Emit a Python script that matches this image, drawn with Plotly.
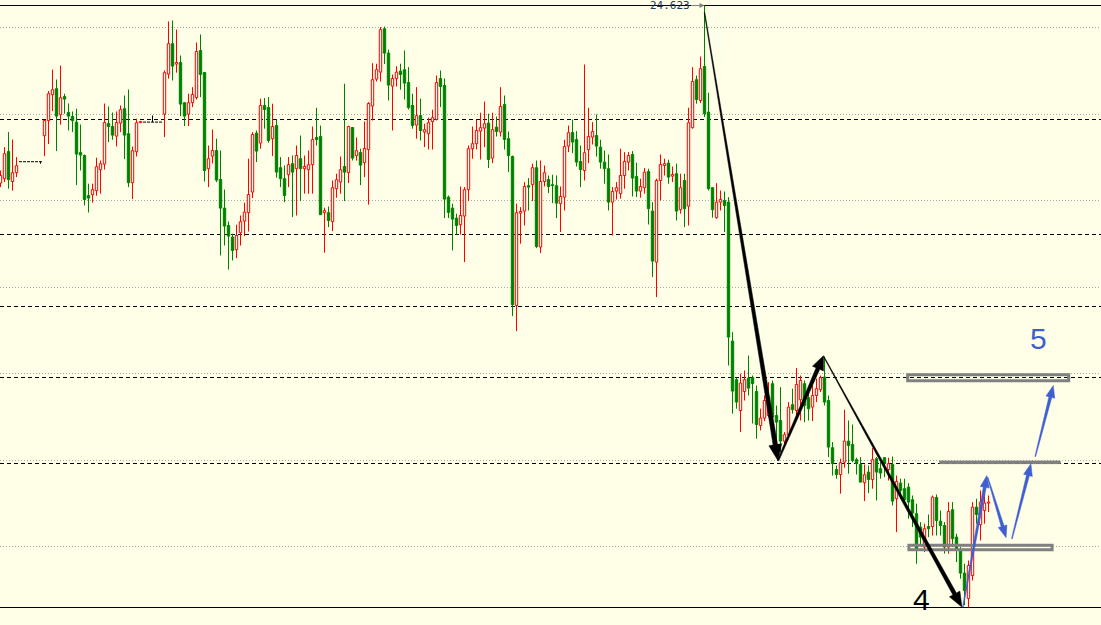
import math
import plotly.graph_objects as go

BG = "#FFFFE8"
UP = "#FF0000"
DN = "#008000"
DOJI = "#000000"
BLUE = "#3F5FD0"
GRAY = "#808080"
GRID = "#A8A8A8"

# ---- OHLC data (one candle per slot) ----
open_ = [23.735, 23.757, 23.893, 23.743, 23.787, 23.842, 23.842, 23.842, 23.842, 23.842,
         23.842, 23.972, 24.047, 24.177, 24.207, 24.077, 24.168, 24.088, 24.068, 24.040,
         23.888, 23.873, 23.673, 23.677, 23.697, 23.802, 23.830, 24.033, 24.018, 23.970,
         24.035, 24.107, 23.982, 23.737, 23.892, 24.037, 24.040, 24.040, 24.040, 24.040,
         24.040, 24.080, 24.280, 24.432, 24.330, 24.338, 24.137, 24.080, 24.137, 24.163,
         24.398, 24.288, 23.807, 23.870, 23.898, 23.753, 23.610, 23.523, 23.465, 23.402,
         23.487, 23.545, 23.587, 23.690, 23.985, 23.935, 24.123, 24.113, 23.957, 24.023,
         23.812, 23.757, 23.777, 23.832, 23.807, 23.857, 23.807, 23.802, 23.827, 23.963,
         23.968, 23.587, 23.587, 23.542, 23.707, 23.740, 23.818, 23.787, 24.013, 23.872,
         23.888, 23.837, 23.902, 24.120, 24.255, 24.290, 24.507, 24.385, 24.220, 24.257,
         24.295, 24.302, 24.238, 24.123, 24.025, 24.073, 23.990, 23.982, 24.042, 24.053,
         24.258, 24.223, 23.665, 23.610, 23.560, 23.527, 23.570, 23.702, 23.907, 23.932,
         23.995, 24.010, 24.035, 23.860, 24.015, 23.990, 24.128, 23.957, 23.868, 23.123,
         23.585, 23.595, 23.722, 23.727, 23.812, 23.415, 23.743, 23.753, 23.727, 23.722,
         23.632, 23.665, 23.920, 23.988, 23.953, 23.843, 23.798, 23.902, 23.965, 23.973,
         23.915, 23.840, 23.807, 23.640, 23.695, 23.682, 23.773, 23.840, 23.878, 23.768,
         23.695, 23.712, 23.793, 23.595, 23.340, 23.748, 23.823, 23.835, 23.770, 23.782,
         23.602, 23.748, 23.620, 24.012, 24.252, 24.148, 24.318, 24.090, 23.712, 23.562,
         23.640, 23.648, 23.640, 22.945, 22.752, 22.598, 22.693, 22.760, 22.763, 22.693,
         22.523, 22.560, 22.573, 22.732, 22.573, 22.548, 22.445, 22.478, 22.627, 22.598,
         22.652, 22.732, 22.662, 22.615, 22.673, 22.702, 22.765, 22.648, 22.412, 22.303,
         22.278, 22.340, 22.445, 22.428, 22.352, 22.328, 22.237, 22.290, 22.253, 22.357,
         22.307, 22.362, 22.303, 22.328, 22.157, 22.235, 22.207, 22.215, 22.152, 22.082,
         22.015, 21.915, 22.018, 22.018, 22.163, 22.045, 22.023, 21.915, 22.102, 21.965,
         21.902, 21.785, 21.658, 21.773, 22.115, 22.027, 22.098, 22.135]
high = [23.798, 23.915, 23.990, 23.953, 23.865, 23.842, 23.842, 23.842, 23.842, 23.842,
        23.842, 24.052, 24.195, 24.303, 24.253, 24.323, 24.182, 24.133, 24.093, 24.107,
        24.028, 23.878, 23.732, 23.732, 23.862, 23.848, 24.133, 24.118, 24.088, 24.093,
        24.123, 24.173, 24.203, 23.918, 24.057, 24.046, 24.040, 24.040, 24.073, 24.040,
        24.040, 24.298, 24.543, 24.548, 24.503, 24.373, 24.138, 24.182, 24.215, 24.438,
        24.478, 24.288, 23.923, 24.003, 23.957, 23.898, 23.703, 23.543, 23.482, 23.527,
        23.573, 23.637, 23.857, 23.990, 23.998, 24.157, 24.160, 24.165, 24.132, 24.053,
        23.865, 23.823, 23.865, 23.873, 23.923, 23.973, 23.873, 23.898, 24.018, 24.112,
        24.023, 23.612, 23.618, 23.748, 23.782, 23.868, 24.232, 24.022, 24.015, 23.963,
        23.907, 24.043, 24.140, 24.335, 24.332, 24.515, 24.518, 24.402, 24.278, 24.320,
        24.332, 24.398, 24.315, 24.182, 24.215, 24.157, 24.032, 24.062, 24.102, 24.273,
        24.298, 24.258, 23.673, 23.632, 23.582, 23.718, 23.715, 23.923, 24.018, 24.052,
        24.087, 24.143, 24.082, 24.087, 24.068, 24.215, 24.173, 23.993, 23.873, 23.632,
        23.615, 23.740, 23.760, 23.832, 23.848, 23.848, 23.823, 23.773, 23.777, 23.773,
        23.718, 23.952, 24.023, 24.053, 23.995, 23.923, 24.328, 24.112, 24.040, 24.078,
        23.952, 23.898, 23.878, 23.715, 23.740, 23.907, 23.890, 23.890, 23.895, 23.837,
        23.757, 23.810, 23.807, 23.640, 23.757, 23.878, 23.857, 23.852, 23.818, 23.832,
        23.782, 23.782, 24.112, 24.315, 24.273, 24.368, 24.623, 24.187, 23.715, 23.735,
        23.698, 23.693, 23.665, 22.990, 22.762, 22.782, 22.798, 22.873, 22.773, 22.723,
        22.607, 22.673, 22.740, 22.748, 22.623, 22.715, 22.490, 22.640, 22.707, 22.810,
        22.773, 22.748, 22.682, 22.723, 22.757, 22.773, 22.868, 22.673, 22.440, 22.323,
        22.357, 22.602, 22.548, 22.528, 22.362, 22.365, 22.328, 22.323, 22.410, 22.365,
        22.340, 22.362, 22.362, 22.368, 22.273, 22.257, 22.257, 22.235, 22.173, 22.132,
        22.040, 22.032, 22.078, 22.173, 22.178, 22.098, 22.040, 22.140, 22.140, 21.982,
        21.915, 21.832, 21.848, 22.140, 22.157, 22.198, 22.182, 22.173]
low = [23.715, 23.740, 23.707, 23.697, 23.765, 23.842, 23.842, 23.842, 23.842, 23.842,
       23.832, 23.870, 23.930, 24.095, 23.895, 24.027, 24.082, 23.998, 23.990, 23.725,
       23.798, 23.623, 23.588, 23.637, 23.672, 23.682, 23.803, 23.940, 23.952, 23.918,
       23.990, 23.855, 23.715, 23.655, 23.868, 24.036, 24.040, 24.040, 24.040, 24.040,
       24.040, 23.965, 24.257, 24.248, 24.287, 24.070, 24.020, 24.020, 24.115, 24.153,
       24.165, 23.743, 23.715, 23.833, 23.740, 23.373, 23.423, 23.303, 23.348, 23.360,
       23.423, 23.470, 23.493, 23.660, 23.840, 23.907, 24.007, 23.937, 23.870, 23.762,
       23.715, 23.640, 23.715, 23.565, 23.573, 23.645, 23.682, 23.682, 23.682, 23.923,
       23.577, 23.387, 23.515, 23.495, 23.662, 23.682, 23.645, 23.735, 23.848, 23.847,
       23.725, 23.765, 23.627, 24.048, 24.243, 24.243, 24.330, 24.148, 23.998, 24.218,
       24.202, 24.153, 24.103, 24.007, 23.957, 23.948, 23.915, 23.903, 23.903, 24.048,
       24.115, 23.560, 23.560, 23.398, 23.477, 23.477, 23.340, 23.645, 23.857, 23.903,
       23.853, 23.915, 23.810, 23.835, 23.968, 23.968, 23.903, 23.790, 23.070, 22.995,
       23.432, 23.523, 23.598, 23.645, 23.410, 23.385, 23.718, 23.685, 23.635, 23.560,
       23.490, 23.598, 23.890, 23.885, 23.818, 23.715, 23.748, 23.835, 23.928, 23.868,
       23.807, 23.732, 23.598, 23.473, 23.653, 23.657, 23.707, 23.798, 23.668, 23.665,
       23.662, 23.682, 23.528, 23.265, 23.165, 23.648, 23.773, 23.732, 23.740, 23.548,
       23.582, 23.515, 23.523, 24.007, 24.132, 24.135, 24.065, 23.698, 23.562, 23.557,
       23.598, 23.490, 22.823, 22.582, 22.607, 22.490, 22.648, 22.673, 22.533, 22.457,
       22.498, 22.545, 22.565, 22.545, 22.398, 22.390, 22.415, 22.462, 22.582, 22.573,
       22.548, 22.540, 22.548, 22.545, 22.640, 22.690, 22.623, 22.365, 22.273, 22.257,
       22.182, 22.312, 22.282, 22.340, 22.278, 22.240, 22.145, 22.185, 22.207, 22.148,
       22.257, 22.265, 22.248, 22.123, 21.990, 22.157, 22.132, 22.057, 22.015, 21.832,
       21.923, 21.890, 21.965, 21.973, 21.973, 21.973, 21.882, 21.882, 21.915, 21.840,
       21.757, 21.625, 21.613, 21.748, 22.032, 21.948, 22.032, 22.090]
close = [23.773, 23.882, 23.752, 23.787, 23.822, 23.842, 23.842, 23.842, 23.842, 23.842,
         23.842, 24.048, 24.182, 24.202, 24.070, 24.162, 24.155, 24.070, 24.047, 23.880,
         23.875, 23.653, 23.660, 23.702, 23.817, 23.832, 24.038, 24.018, 23.975, 24.038,
         24.102, 23.975, 23.737, 23.897, 24.037, 24.043, 24.040, 24.040, 24.040, 24.040,
         24.040, 24.287, 24.432, 24.320, 24.338, 24.130, 24.070, 24.137, 24.178, 24.393,
         24.278, 23.798, 23.857, 23.898, 23.750, 23.610, 23.520, 23.470, 23.398, 23.473,
         23.542, 23.590, 23.678, 23.978, 23.895, 24.123, 24.103, 23.948, 24.018, 23.790,
         23.757, 23.673, 23.827, 23.790, 23.873, 23.807, 23.818, 23.827, 23.953, 23.953,
         23.577, 23.597, 23.548, 23.712, 23.752, 23.802, 23.790, 24.018, 23.860, 23.897,
         23.825, 23.908, 24.133, 24.252, 24.302, 24.502, 24.385, 24.225, 24.258, 24.290,
         24.278, 24.235, 24.112, 24.023, 24.072, 23.998, 24.002, 24.037, 24.062, 24.238,
         24.218, 23.655, 23.588, 23.555, 23.523, 23.573, 23.702, 23.907, 23.932, 23.998,
         24.012, 24.032, 23.853, 24.002, 23.993, 24.118, 23.953, 23.873, 23.127, 23.587,
         23.593, 23.718, 23.715, 23.812, 23.418, 23.743, 23.787, 23.718, 23.723, 23.635,
         23.668, 23.918, 23.987, 23.940, 23.840, 23.802, 23.887, 23.968, 23.993, 23.920,
         23.840, 23.807, 23.640, 23.693, 23.712, 23.773, 23.843, 23.873, 23.760, 23.695,
         23.718, 23.790, 23.607, 23.345, 23.748, 23.828, 23.832, 23.765, 23.778, 23.595,
         23.712, 23.607, 24.037, 24.243, 24.153, 24.307, 24.082, 23.707, 23.602, 23.640,
         23.653, 23.623, 22.965, 22.695, 22.640, 22.735, 22.752, 22.710, 22.733, 22.528,
         22.560, 22.648, 22.665, 22.565, 22.540, 22.445, 22.477, 22.615, 22.602, 22.728,
         22.748, 22.623, 22.607, 22.673, 22.707, 22.762, 22.640, 22.415, 22.332, 22.278,
         22.337, 22.445, 22.423, 22.348, 22.332, 22.240, 22.277, 22.253, 22.352, 22.290,
         22.285, 22.332, 22.332, 22.145, 22.243, 22.198, 22.152, 22.140, 22.085, 21.907,
         21.965, 22.007, 22.007, 22.165, 22.048, 22.023, 21.915, 22.093, 21.957, 21.898,
         21.785, 21.698, 21.823, 22.115, 22.078, 22.140, 22.135, 22.140]

# ---- levels and annotations ----
HIGH_LABEL = "24.623"
HIGH_PRICE = 24.623
HIGH_INDEX = 176
LOW_PRICE = 21.613
dashed_levels = [24.053, 23.478, 23.118, 22.763, 22.333]
grid_levels = [24.513, 24.078, 23.648, 23.213, 22.783, 22.348, 21.918]

# arrows: (start index, start price, tip index, tip price, w0, w1, head len, head width)
black_arrows = [
    (176.0, 24.588, 194.35, 22.348, 0.6, 4.5, 16, 13),
    (194.4, 22.348, 205.75, 22.872, 1.5, 4.0, 14, 12),
    (205.8, 22.868, 240.35, 21.615, 0.6, 4.0, 15, 12),
]
blue_arrows = [
    (240.6, 21.615, 246.6, 22.273, 0.8, 3.0, 12, 9),
    (246.8, 22.263, 251.4, 21.962, 0.8, 3.0, 12, 9),
    (252.85, 21.957, 257.6, 22.332, 0.8, 3.0, 12, 9),
    (258.7, 22.368, 263.2, 22.723, 0.8, 3.0, 12, 9),
]
# zones: (i0, i1, p_top, p_bottom, filled)
zones = [
    (226.8, 267.05, 22.777, 22.747, False),
    (234.8, 264.9, 22.345, 22.3325, True),
    (227.1, 262.9, 21.924, 21.902, False),
]
wave_labels = [("4", 230.3, 21.653, "#000000"), ("5", 259.55, 22.958, BLUE)]

# ---- axis geometry ----
W, H = 1101, 625
X0 = -0.125
X1 = X0 + W / 4.0
Y1 = 24.6505
Y0 = Y1 - H / 200.0


def to_px(i, p):
    return (i - X0) / (X1 - X0) * W, (Y1 - p) / (Y1 - Y0) * H


def to_data(x, y):
    return X0 + x / W * (X1 - X0), Y1 - y / H * (Y1 - Y0)


def arrow_path(i0, p0, i1, p1, w0, w1, hl, hw):
    sx, sy = to_px(i0, p0)
    tx, ty = to_px(i1, p1)
    dx, dy = tx - sx, ty - sy
    ln = math.hypot(dx, dy)
    ux, uy = dx / ln, dy / ln
    nx, ny = -uy, ux
    bx, by = tx - ux * hl, ty - uy * hl
    pts = [
        (sx + nx * w0 / 2, sy + ny * w0 / 2),
        (bx + nx * w1 / 2, by + ny * w1 / 2),
        (bx + nx * hw / 2, by + ny * hw / 2),
        (tx, ty),
        (bx - nx * hw / 2, by - ny * hw / 2),
        (bx - nx * w1 / 2, by - ny * w1 / 2),
        (sx - nx * w0 / 2, sy - ny * w0 / 2),
    ]
    d = []
    for k, (x, y) in enumerate(pts):
        di, dp = to_data(x, y)
        d.append(("M" if k == 0 else "L") + f"{di:.4f},{dp:.5f}")
    return " ".join(d) + " Z"


# ---- build candles ----
N = len(open_)
up_x, up_b, up_h = [], [], []
dn_x, dn_b, dn_h = [], [], []
wick = {"up": ([], []), "dn": ([], []), "dj": ([], [])}
dj_x, dj_y = [], []
for i in range(N):
    o, h, l, c = open_[i], high[i], low[i], close[i]
    top, bot = max(o, c), min(o, c)
    if c > o:
        key = "up"
        up_x.append(i); up_b.append(o); up_h.append(c - o)
    elif c < o:
        key = "dn"
        dn_x.append(i); dn_b.append(c); dn_h.append(o - c)
    else:
        key = "dj"
        dj_x += [i - 0.38, i + 0.38, None]
        dj_y += [c, c, None]
    wx, wy = wick[key]
    if h > top:
        wx += [i, i, None]; wy += [top, h, None]
    if l < bot:
        wx += [i, i, None]; wy += [bot, l, None]

fig = go.Figure()
fig.add_trace(go.Bar(x=up_x, base=up_b, y=up_h, width=0.6,
                     marker=dict(color=BG, line=dict(color=UP, width=1))))
fig.add_trace(go.Bar(x=dn_x, base=dn_b, y=dn_h, width=0.6,
                     marker=dict(color=DN, line=dict(color=DN, width=1))))
for key, col in (("up", UP), ("dn", DN), ("dj", DOJI)):
    wx, wy = wick[key]
    fig.add_trace(go.Scatter(x=wx, y=wy, mode="lines", line=dict(color=col, width=1),
                             connectgaps=False, hoverinfo="skip"))
fig.add_trace(go.Scatter(x=dj_x, y=dj_y, mode="lines", line=dict(color=DOJI, width=1),
                         connectgaps=False, hoverinfo="skip"))

shapes = []
for g in grid_levels:
    shapes.append(dict(type="line", xref="paper", x0=0, x1=1, yref="y", y0=g, y1=g,
                       line=dict(color=GRID, width=1, dash="1px,2px"), layer="below"))
for lv in dashed_levels:
    shapes.append(dict(type="line", xref="paper", x0=0, x1=1, yref="y", y0=lv, y1=lv,
                       line=dict(color="#000000", width=1, dash="4px,3px"), layer="below"))
for lv in (HIGH_PRICE, LOW_PRICE):
    shapes.append(dict(type="line", xref="paper", x0=0, x1=1, yref="y", y0=lv, y1=lv,
                       line=dict(color="#000000", width=1), layer="below"))
for (i0, i1, pt, pb, filled) in zones:
    shapes.append(dict(type="rect", xref="x", yref="y", x0=i0, x1=i1, y0=pb, y1=pt,
                       line=dict(color=GRAY, width=1 if filled else 3),
                       fillcolor=GRAY if filled else "rgba(0,0,0,0)", layer="above"))
for a in black_arrows:
    shapes.append(dict(type="path", xref="x", yref="y", path=arrow_path(*a),
                       fillcolor="#000000", line=dict(color="#000000", width=0.5), layer="above"))
for a in blue_arrows:
    shapes.append(dict(type="path", xref="x", yref="y", path=arrow_path(*a),
                       fillcolor=BLUE, line=dict(color=BLUE, width=0.5), layer="above"))

annotations = [
    dict(x=HIGH_INDEX, y=HIGH_PRICE, xref="x", yref="y", text=HIGH_LABEL,
         showarrow=True, ax=-35, ay=0, arrowcolor=GRAY, arrowwidth=1, arrowhead=2,
         arrowsize=1, standoff=0,
         font=dict(family="DejaVu Sans Mono", size=11, color="#1E3A5F")),
]
for txt, xi, yp, col in wave_labels:
    annotations.append(dict(x=xi, y=yp, xref="x", yref="y", text=txt, showarrow=False,
                            font=dict(family="Liberation Sans, Arial", size=30, color=col)))

fig.update_layout(
    width=W, height=H, autosize=False,
    margin=dict(l=0, r=0, t=0, b=0, pad=0),
    paper_bgcolor=BG, plot_bgcolor=BG,
    showlegend=False, barmode="overlay", hovermode=False,
    xaxis=dict(range=[X0, X1], visible=False, fixedrange=True),
    yaxis=dict(range=[Y0, Y1], visible=False, fixedrange=True),
    shapes=shapes, annotations=annotations,
)

fig.write_html("out.html", config={"displayModeBar": False, "staticPlot": True},
               post_script="document.body.style.margin='0px';document.body.style.overflow='hidden';")
